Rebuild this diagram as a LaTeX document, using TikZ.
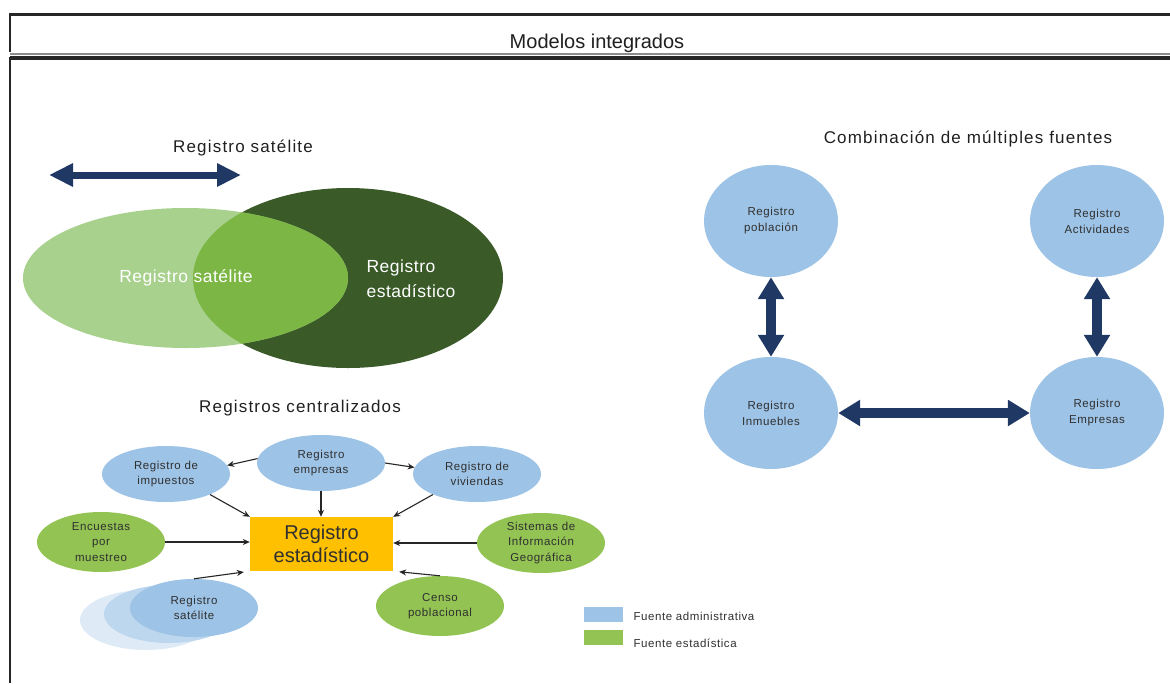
\documentclass[tikz,border=0pt]{standalone}
\usepackage{fontspec}
\setmainfont{Liberation Sans}
\usetikzlibrary{shapes.geometric,arrows.meta}
\definecolor{adm}{HTML}{9DC3E6}
\definecolor{admmid}{HTML}{BDD7EE}
\definecolor{admlight}{HTML}{DEEBF7}
\definecolor{est}{HTML}{92C353}
\definecolor{orangebox}{HTML}{FFC000}
\definecolor{vennlight}{HTML}{A9D18E}
\definecolor{venndark}{HTML}{3A5A28}
\definecolor{vennmid}{HTML}{7CB644}
\definecolor{navy}{HTML}{203864}
\definecolor{txt}{HTML}{303030}
\definecolor{ttl}{HTML}{202020}
\begin{document}
\begin{tikzpicture}[x=1pt,y=-1pt,
  smallel/.style={ellipse,inner sep=0pt,minimum width=128pt,minimum height=56pt,align=center,text=txt,font=\fontsize{11.5}{15.5}\selectfont\addfontfeatures{LetterSpace=5}},
  admel/.style={smallel,fill=adm},
  estel/.style={smallel,fill=est},
  bigcirc/.style={ellipse,inner sep=0pt,minimum width=134pt,minimum height=112pt,fill=adm,align=center,text=txt,font=\fontsize{11.5}{16}\selectfont\addfontfeatures{LetterSpace=5}},
  thinarrow/.style={-{Stealth[length=7pt,width=6pt]},line width=1.1pt,draw=black!85},
  bigarrow/.style={{Triangle[length=22pt,width=25pt]}-{Triangle[length=22pt,width=25pt]},line width=9.5pt,draw=navy},
  titletext/.style={text=ttl,font=\fontsize{17}{20}\selectfont\addfontfeatures{LetterSpace=7}},
  legendtext/.style={text=txt,font=\fontsize{11.5}{14}\selectfont\addfontfeatures{LetterSpace=5},anchor=west}
]
\useasboundingbox (0,0) rectangle (1170,683);
\fill[white] (0,0) rectangle (1170,683);

% frame
\draw[line width=3pt,draw=black!85] (9,14.5) -- (1170,14.5);
\draw[line width=2.5pt,draw=black!85] (10,13) -- (10,52);
\draw[line width=1.2pt,draw=black!45] (10,54) -- (1170,54);
\draw[line width=3.5pt,draw=black!85] (10,58) -- (1170,58);
\draw[line width=2.5pt,draw=black!85] (10,57) -- (10,683);
\node[text=ttl,font=\fontsize{20}{22}\selectfont] (hdr) at (597,43) {Modelos integrados};

% Venn (Registro satelite)
\node[titletext] (t1) at (243,148) {Registro satélite};
\coordinate (a1) at (49,175);
\coordinate (a2) at (241,175);
\draw[{Triangle[length=24pt,width=22pt]}-{Triangle[length=24pt,width=22pt]},line width=7pt,draw=navy] (a1) -- (a2);
\fill[venndark] (348,278) ellipse [x radius=155, y radius=90];
\fill[vennlight] (185.5,278) ellipse [x radius=162.5, y radius=70];
\begin{scope}
  \clip (348,278) ellipse [x radius=155, y radius=90];
  \fill[vennmid] (185.5,278) ellipse [x radius=162.5, y radius=70];
\end{scope}
\node[text=white,font=\fontsize{17.5}{20}\selectfont\addfontfeatures{LetterSpace=3}] (vs) at (186,278) {Registro satélite};
\node[text=white,font=\fontsize{17.5}{25}\selectfont\addfontfeatures{LetterSpace=3},align=left,anchor=west] (ve) at (363,279) {Registro\\estadístico};

% Registros centralizados
\node[titletext] (t2) at (300,408) {Registros centralizados};
\node[fill=orangebox,minimum width=143pt,minimum height=54pt,inner sep=0pt,align=center,text=txt,font=\fontsize{20}{23}\selectfont] (box) at (321.5,544) {Registro\\estadístico};
\node[admel] (imp) at (166,474) {Registro de\\impuestos};
\node[admel] (emp) at (321,463) {Registro\\empresas};
\node[admel] (viv) at (477,474) {Registro de\\viviendas};
\node[estel,minimum height=60pt] (enc) at (101,542) {Encuestas\\por\\muestreo};
\node[estel,minimum height=60pt] (sig) at (541,543) {Sistemas de\\Información\\Geográfica};
\node[ellipse,inner sep=0pt,minimum width=132pt,minimum height=60pt,fill=admlight] (sh2) at (146,620) {};
\node[ellipse,inner sep=0pt,minimum width=130pt,minimum height=58pt,fill=admmid] (sh1) at (169,614) {};
\node[admel,minimum height=58pt] (sat) at (194,608) {Registro\\satélite};
\node[estel,minimum height=60pt] (cen) at (440,606) {Censo\\poblacional};

\draw[thinarrow] (emp.176) -- (imp.8);
\draw[thinarrow] (emp.east) -- (viv.174);
\draw[thinarrow] (imp.-25) -- (box.north west);
\draw[thinarrow] (emp.south) -- (box.north -| emp.south);
\draw[thinarrow] (viv.-155) -- (box.north east);
\draw[thinarrow] (enc.east) -- (enc.east -| box.west);
\draw[thinarrow] (sig.west) -- (sig.west -| box.east);
\draw[thinarrow,shorten >=6pt] (sat.north) -- (box.south west);
\draw[thinarrow,shorten >=6pt] (cen.north) -- (box.south east);

% legend
\node[fill=adm,minimum width=39pt,minimum height=15pt,inner sep=0pt] (lg1) at (603.5,614.5) {};
\node[fill=est,minimum width=39pt,minimum height=15pt,inner sep=0pt] (lg2) at (603.5,637.5) {};
\node[legendtext] (lt1) at (630,616) {Fuente administrativa};
\node[legendtext] (lt2) at (630,643) {Fuente estadística};

% Combinacion de multiples fuentes
\node[titletext] (t3) at (968,139) {Combinación de múltiples fuentes};
\node[bigcirc] (pop) at (771,221) {Registro\\población};
\node[bigcirc] (act) at (1097,221) {Registro\\Actividades};
\node[bigcirc] (inm) at (771,413) {Registro\\Inmuebles};
\node[bigcirc] (emp2) at (1097,413) {Registro\\Empresas};
\draw[bigarrow] (pop.south) -- (inm.north);
\draw[bigarrow] (act.south) -- (emp2.north);
\draw[bigarrow] (inm.east) -- (emp2.west);
\end{tikzpicture}
\end{document}
